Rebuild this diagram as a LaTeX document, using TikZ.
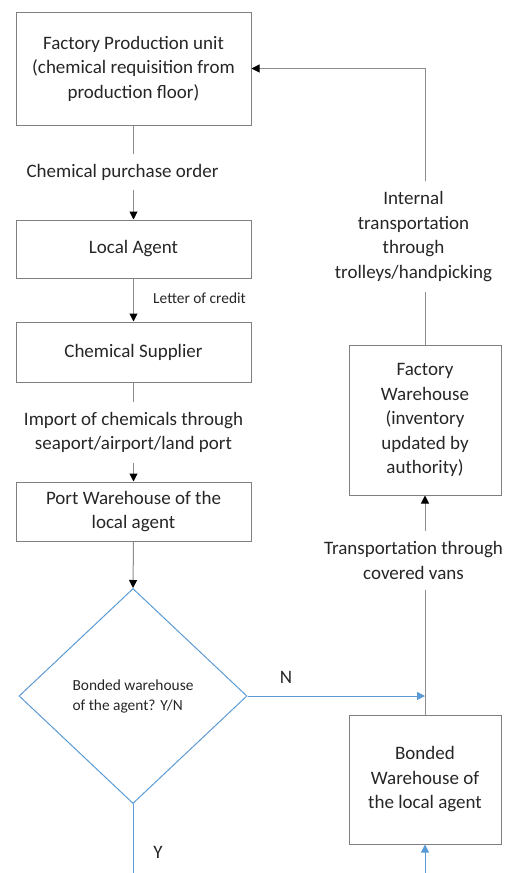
\documentclass[tikz,border=0pt]{standalone}
\usepackage{fontspec}
\setmainfont{Carlito}
\usetikzlibrary{shapes.geometric,arrows.meta}

\definecolor{boxgray}{HTML}{7F7F7F}
\definecolor{linegray}{HTML}{8C8C8C}
\definecolor{flowblue}{HTML}{5B9BD5}
\definecolor{ink}{HTML}{262626}

\begin{document}
\begin{tikzpicture}[x=1pt,y=-1pt,
  every node/.style={text=ink},
  mainfont/.style={font=\fontsize{19}{24.5}\selectfont},
  smallfont/.style={font=\fontsize{15.4}{20}\selectfont},
  procbox/.style={draw=boxgray, line width=1pt, align=center, inner sep=0pt, mainfont},
  flowlabel/.style={align=center, inner xsep=2pt, inner ysep=10pt, mainfont},
  conn/.style={draw=linegray, line width=1pt},
  arr/.style={conn, -{Triangle[length=8pt,width=8pt,color=black]}},
  blueconn/.style={draw=flowblue, line width=1pt},
  bluearr/.style={blueconn, -{Triangle[length=8pt,width=8pt]}},
]
\useasboundingbox (0,0) rectangle (511,873);

% main column of process boxes
\node[procbox, minimum width=235pt, minimum height=113pt] (fp) at (133.5,68.5)
  {Factory Production unit\\(chemical requisition from\\production floor)};
\node[procbox, minimum width=235pt, minimum height=58pt] (la) at (133.5,249) {Local Agent};
\node[procbox, minimum width=235pt, minimum height=60pt] (cs) at (133.5,352) {Chemical Supplier};
\node[procbox, minimum width=235pt, minimum height=59pt] (pw) at (133.5,511.5)
  {Port Warehouse of the\\local agent};

% decision
\node[diamond, draw=flowblue, line width=1pt, minimum width=228pt, minimum height=215pt,
      inner sep=0pt, align=left, smallfont] (dia) at (133,696)
  {Bonded warehouse\\of the agent? Y/N};

% right column
\node[procbox, minimum width=152pt, minimum height=150pt] (fw) at (425,420)
  {Factory\\Warehouse\\(inventory\\updated by\\authority)};
\node[procbox, minimum width=152pt, minimum height=129pt] (bw) at (425,779.5)
  {Bonded\\Warehouse of\\the local agent};

% connector labels
\node[flowlabel] (l1) at (122.5,172) {Chemical purchase order};
\node[flowlabel] (l2) at (133.5,432.5) {Import of chemicals through\\seaport/airport/land port};
\node[flowlabel] (l3) at (413.5,236.5) {Internal\\transportation\\through\\trolleys/handpicking};
\node[flowlabel] (l4) at (413.5,560.5) {Transportation through\\covered vans};
\node[smallfont, anchor=west, inner sep=0pt] (lc) at (153,298) {Letter of credit};
\node[mainfont, inner sep=0pt] (ln) at (286,677) {N};
\node[mainfont, inner sep=0pt] (ly) at (158,852) {Y};

\coordinate (njoin) at (425,696);
\coordinate (ybottom) at (133,873);
\coordinate (bwfeed) at (425,873);

% main flow
\draw[conn] (fp.south) -- (fp.south |- l1.north);
\draw[arr] (la.north |- l1.south) -- (la.north);
\draw[arr] (la.south) -- (cs.north);
\draw[conn] (cs.south) -- (cs.south |- l2.north);
\draw[arr] (pw.north |- l2.south) -- (pw.north);
\draw[arr] (pw.south) -- (dia.north);

% decision branches
\draw[bluearr] (dia.east) -- (njoin);
\draw[blueconn] (dia.south) -- (ybottom);
\draw[bluearr] (bwfeed) -- (bw.south);

% return path
\draw[conn] (bw.north) -- (bw.north |- l4.south);
\draw[arr] (fw.south |- l4.north) -- (fw.south);
\draw[conn] (fw.north) -- (fw.north |- l3.south);
\draw[arr] (fw.north |- l3.north) |- (fp.east);
\end{tikzpicture}
\end{document}
